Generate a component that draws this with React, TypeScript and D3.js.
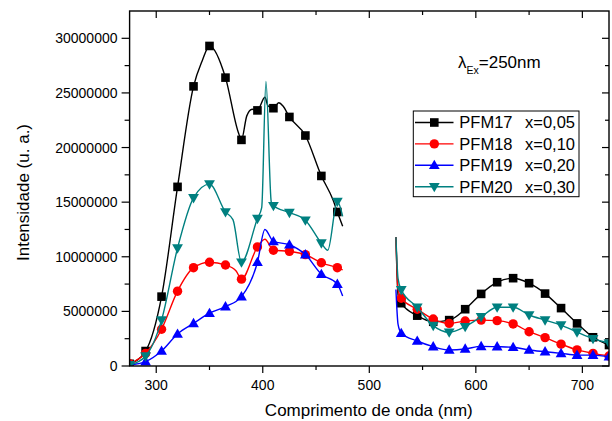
import React from "react";
import * as d3 from "d3";

const width = 612;
const height = 421;
const plot = { left: 129.6, right: 609, top: 11, bottom: 366 };

// wavelengths (nm) that carry a symbol
const markerNm = [
  275, 290, 305, 320, 335, 350, 365, 380, 395, 410, 425, 440, 455, 470,
  530, 545, 560, 575, 590, 605, 620, 635, 650, 665, 680, 695, 710, 725,
];

// [nm, intensity in millions], left band then right band
const pfm17Left = [
  [275, 0.2], [290, 1.37], [305, 6.35], [320, 16.4], [335, 25.6], [343, 27.9], [350, 29.3],
  [365, 26.4], [377, 21.4], [380, 20.7], [385, 22.9], [390, 23.5], [395, 23.4], [402, 24.6],
  [405, 23.8], [410, 23.6], [415, 24.1], [419, 23.8], [425, 22.8], [440, 21.1], [455, 17.4],
  [466, 15.2], [470, 14.1], [475, 12.8],
];
const pfm17Right = [
  [525, 11.8], [527, 6.5], [530, 5.75], [545, 4.61], [560, 4.05], [575, 4.2], [590, 5.2],
  [605, 6.6], [620, 7.67], [635, 8.04], [650, 7.58], [665, 6.63], [680, 5.3], [695, 3.9],
  [710, 2.63], [725, 1.92],
];
const pfm18Left = [
  [275, 0.2], [290, 1.16], [305, 3.36], [320, 6.85], [335, 9.0], [350, 9.5], [365, 9.25],
  [375, 8.7], [380, 7.95], [395, 10.9], [402, 11.6], [410, 10.6], [425, 10.5], [440, 10.2],
  [455, 9.45], [470, 9.0], [475, 8.8],
];
const pfm18Right = [
  [525, 11.8], [527, 7.0], [530, 6.2], [545, 5.2], [560, 4.3], [575, 3.9], [590, 4.12],
  [605, 4.2], [620, 4.15], [635, 3.85], [650, 3.14], [665, 2.6], [680, 2.0], [695, 1.47],
  [710, 1.16], [725, 0.92],
];
const pfm19Left = [
  [275, 0.1], [290, 0.4], [305, 1.37], [320, 2.93], [335, 3.9], [350, 4.83], [365, 5.44],
  [380, 6.35], [395, 9.5], [402, 12.5], [410, 11.4], [425, 11.1], [440, 10.2], [455, 8.4],
  [470, 7.5], [475, 6.4],
];
const pfm19Right = [
  [525, 7.0], [527, 3.8], [530, 3.0], [545, 2.29], [560, 1.77], [575, 1.47], [590, 1.56],
  [605, 1.8], [620, 1.77], [635, 1.71], [650, 1.47], [665, 1.31], [680, 1.16], [695, 1.0],
  [710, 1.0], [725, 0.85],
];
const pfm20Left = [
  [275, 0.1], [290, 0.9], [305, 4.2], [320, 10.8], [335, 15.4], [350, 16.65], [365, 14.1],
  [372, 13.4], [380, 9.5], [395, 13.5], [399, 14.5], [403, 26.06], [408, 15.0], [410, 14.67],
  [425, 14.05], [440, 13.35], [455, 11.25], [461, 10.6], [470, 15.06], [475, 13.7],
];
const pfm20Right = [
  [525, 11.8], [527, 8.0], [530, 6.97], [545, 5.38], [560, 3.7], [575, 3.09], [590, 3.6],
  [605, 4.5], [620, 5.38], [635, 5.38], [650, 4.67], [665, 4.2], [680, 3.75], [695, 3.1],
  [710, 2.5], [725, 2.1],
];

const seriesNames = ["PFM17", "PFM18", "PFM19", "PFM20"];
const seriesX = ["x=0,05", "x=0,10", "x=0,20", "x=0,30"];
const colors = ["#000000", "#ff0000", "#0000ff", "#008080"];
const symbols = ["square", "circle", "triangleUp", "triangleDown"];
const segments = [
  [pfm17Left, pfm17Right],
  [pfm18Left, pfm18Right],
  [pfm19Left, pfm19Right],
  [pfm20Left, pfm20Right],
];

const xMajor = [300, 400, 500, 600, 700];
const xMinor = [350, 450, 550, 650];
const yMajor = [0, 5, 10, 15, 20, 25, 30];
const yMinor = [2.5, 7.5, 12.5, 17.5, 22.5, 27.5];

const x = d3.scaleLinear([275, 725], [plot.left, plot.right]);
const y = d3.scaleLinear([0, 32.5], [plot.bottom, plot.top]);

const font = "Arial, 'Liberation Sans', sans-serif";

const Marker = ({ kind, cx, cy, color }: { kind: string; cx: number; cy: number; color: string }) => {
  if (kind === "square") return <rect x={cx - 4.3} y={cy - 4.3} width={8.6} height={8.6} fill={color} />;
  if (kind === "circle") return <circle cx={cx} cy={cy} r={4.7} fill={color} />;
  if (kind === "triangleUp")
    return <path d={`M${cx},${cy - 5.6}L${cx + 5.4},${cy + 3.8}L${cx - 5.4},${cy + 3.8}Z`} fill={color} />;
  return <path d={`M${cx},${cy + 5.6}L${cx + 5.4},${cy - 3.8}L${cx - 5.4},${cy - 3.8}Z`} fill={color} />;
};

const App = () => {
  const line = d3
    .line<number[]>()
    .x((d) => x(d[0]))
    .y((d) => y(d[1]))
    .curve(d3.curveMonotoneX);

  return (
    <svg
      width={width}
      height={height}
      style={{ position: "absolute", left: 0, top: 0, background: "#fff" }}
      fontFamily={font}
    >
      <defs>
        <clipPath id="plotClip">
          <rect x={plot.left} y={plot.top} width={plot.right - plot.left} height={plot.bottom - plot.top} />
        </clipPath>
      </defs>

      <g clipPath="url(#plotClip)">
        {segments.map((segs, i) => (
          <g key={seriesNames[i]}>
            {segs.map((seg, j) => (
              <path key={j} d={line(seg) ?? ""} fill="none" stroke={colors[i]} strokeWidth={1.4} strokeLinejoin="round" />
            ))}
            {segs.flat().filter((d) => markerNm.includes(d[0])).map((d, k) => (
              <Marker key={k} kind={symbols[i]} cx={x(d[0])} cy={y(d[1])} color={colors[i]} />
            ))}
          </g>
        ))}
      </g>

      {/* frame */}
      <rect
        x={plot.left}
        y={plot.top}
        width={plot.right - plot.left}
        height={plot.bottom - plot.top}
        fill="none"
        stroke="#000"
        strokeWidth={1.4}
      />

      {/* x ticks */}
      {xMajor.map((t) => (
        <g key={`xm${t}`}>
          <line x1={x(t)} x2={x(t)} y1={plot.bottom} y2={plot.bottom + 7} stroke="#000" strokeWidth={1.2} />
          <line x1={x(t)} x2={x(t)} y1={plot.top} y2={plot.top + 7} stroke="#000" strokeWidth={1.2} />
          <text x={x(t)} y={390} textAnchor="middle" fontSize={14}>
            {t}
          </text>
        </g>
      ))}
      {xMinor.map((t) => (
        <g key={`xn${t}`}>
          <line x1={x(t)} x2={x(t)} y1={plot.bottom} y2={plot.bottom + 4} stroke="#000" strokeWidth={1.2} />
          <line x1={x(t)} x2={x(t)} y1={plot.top} y2={plot.top + 4} stroke="#000" strokeWidth={1.2} />
        </g>
      ))}

      {/* y ticks */}
      {yMajor.map((t) => (
        <g key={`ym${t}`}>
          <line x1={plot.left - 8} x2={plot.left} y1={y(t)} y2={y(t)} stroke="#000" strokeWidth={1.2} />
          <line x1={plot.right - 7} x2={plot.right} y1={y(t)} y2={y(t)} stroke="#000" strokeWidth={1.2} />
          <text x={117.5} y={y(t)} dy="0.36em" textAnchor="end" fontSize={14}>
            {String(t * 1000000)}
          </text>
        </g>
      ))}
      {yMinor.map((t) => (
        <g key={`yn${t}`}>
          <line x1={plot.left - 5} x2={plot.left} y1={y(t)} y2={y(t)} stroke="#000" strokeWidth={1.2} />
          <line x1={plot.right - 4} x2={plot.right} y1={y(t)} y2={y(t)} stroke="#000" strokeWidth={1.2} />
        </g>
      ))}

      {/* axis titles */}
      <text x={(plot.left + plot.right) / 2 - 0.5} y={416} textAnchor="middle" fontSize={17}>
        Comprimento de onda (nm)
      </text>
      <text transform={`translate(29,${(plot.top + plot.bottom) / 2 + 4}) rotate(-90)`} textAnchor="middle" fontSize={17}>
        Intensidade (u. a.)
      </text>

      {/* excitation label */}
      <text x={458} y={68} fontSize={17}>
        λ
        <tspan fontSize={10.5} dy={6}>
          Ex
        </tspan>
        <tspan dy={-6}>=250nm</tspan>
      </text>

      {/* legend */}
      <rect x={413.3} y={111} width={165.7} height={85.7} fill="#fff" stroke="#000" strokeWidth={1} />
      {seriesNames.map((name, i) => {
        const ly = 122.5 + i * 21.4;
        return (
          <g key={`lg${name}`}>
            <line x1={415} x2={453.5} y1={ly} y2={ly} stroke={colors[i]} strokeWidth={1.4} />
            <Marker kind={symbols[i]} cx={434.3} cy={ly} color={colors[i]} />
            <text x={459.3} y={ly} dy="0.36em" fontSize={16.5}>
              {name}
            </text>
            <text x={525} y={ly} dy="0.36em" fontSize={16.5}>
              {seriesX[i]}
            </text>
          </g>
        );
      })}
    </svg>
  );
};

export default App;
